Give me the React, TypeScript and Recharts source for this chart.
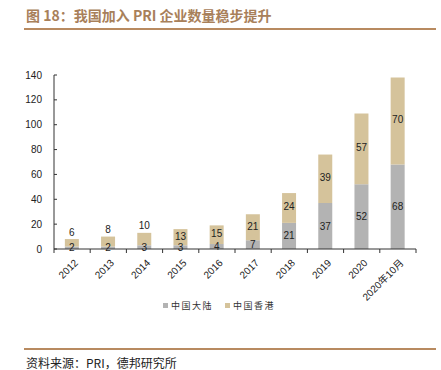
import React from "react";
import {
  Bar,
  BarChart,
  LabelList,
  Legend,
  XAxis,
  YAxis,
} from "recharts";

const YEARS = [
  "2012",
  "2013",
  "2014",
  "2015",
  "2016",
  "2017",
  "2018",
  "2019",
  "2020",
  "2020年10月",
];
const MAINLAND = [2, 2, 3, 3, 4, 7, 21, 37, 52, 68];
const HONGKONG = [6, 8, 10, 13, 15, 21, 24, 39, 57, 70];
const Y_TICKS = [0, 20, 40, 60, 80, 100, 120, 140];

const GREY = "#b3b3b3";
const TAN = "#d5c39b";
const BROWN = "#a8805a";
const FONT = "Arial, 'Liberation Sans', 'Noto Sans CJK SC', sans-serif";

const data = YEARS.map((year, i) => ({
  year,
  mainland: MAINLAND[i],
  hongkong: HONGKONG[i],
}));

// half of a category band: plot spans 54..416 for 10 categories
const HALF_BAND = (416 - 54) / YEARS.length / 2;

function XTick(props: any) {
  const { x, y, payload, index } = props;
  const last = index === YEARS.length - 1;
  return (
    <g>
      <line x1={x - HALF_BAND} x2={x - HALF_BAND} y1={y - 8} y2={y - 4} stroke="#333" />
      {last && (
        <line x1={x + HALF_BAND} x2={x + HALF_BAND} y1={y - 8} y2={y - 4} stroke="#333" />
      )}
      <text
        transform={`translate(${x + 4},${y + 4}) rotate(-45)`}
        textAnchor="end"
        fontSize={10}
        fill="#222"
        fontFamily={FONT}
        dy="0.35em"
      >
        {payload.value}
      </text>
    </g>
  );
}

function YTick(props: any) {
  const { x, y, payload } = props;
  return (
    <g>
      <line x1={x + 12} x2={x + 15} y1={y} y2={y} stroke="#333" />
      <text
        x={x}
        y={y}
        textAnchor="end"
        dy="0.35em"
        fontSize={10}
        fill="#222"
        fontFamily={FONT}
      >
        {payload.value}
      </text>
    </g>
  );
}

function centerLabel(props: any) {
  const { x, y, width, height, value } = props;
  return (
    <text
      x={x + width / 2}
      y={y + height / 2}
      textAnchor="middle"
      dy="0.35em"
      fontSize={10}
      fill="#222"
      fontFamily={FONT}
    >
      {value}
    </text>
  );
}

// small top segments get their label just above the bar
function topLabel(props: any) {
  const { x, y, width, height, value } = props;
  const ly = height < 15 ? y - 7 : y + height / 2 - 1;
  return (
    <text
      x={x + width / 2}
      y={ly}
      textAnchor="middle"
      dy="0.35em"
      fontSize={10}
      fill="#222"
      fontFamily={FONT}
    >
      {value}
    </text>
  );
}

function LegendContent() {
  const items = [
    { name: "中国大陆", color: GREY },
    { name: "中国香港", color: TAN },
  ];
  return (
    <div
      style={{
        display: "flex",
        justifyContent: "center",
        gap: 12,
        fontSize: 9,
        letterSpacing: 1.5,
        color: "#333",
        fontFamily: "'Noto Sans CJK SC', sans-serif",
        paddingLeft: 22,
        paddingTop: 4,
      }}
    >
      {items.map((it) => (
        <span key={it.name} style={{ display: "flex", alignItems: "center" }}>
          <span
            style={{
              display: "inline-block",
              width: 5,
              height: 5,
              background: it.color,
              marginRight: 3,
            }}
          />
          {it.name}
        </span>
      ))}
    </div>
  );
}

export default function App() {
  return (
    <div
      style={{
        position: "absolute",
        left: 0,
        top: 0,
        width: 441,
        height: 370,
        background: "#fff",
      }}
    >
      <div
        style={{
          position: "absolute",
          left: 26,
          top: 5,
          fontSize: 14,
          fontWeight: 700,
          color: BROWN,
          fontFamily: "'Noto Sans CJK SC', sans-serif",
          whiteSpace: "nowrap",
          lineHeight: "20px",
        }}
      >
        图 18：我国加入 PRI 企业数量稳步提升
      </div>
      <div
        style={{
          position: "absolute",
          left: 24,
          top: 28,
          width: 412,
          height: 2,
          background: "#b88a60",
        }}
      />
      <div style={{ position: "absolute", left: 0, top: 0 }}>
        <BarChart
          width={441}
          height={316}
          data={data}
          margin={{ top: 75, right: 25, left: 0, bottom: 1 }}
          barCategoryGap="30%"
        >
          <XAxis
            dataKey="year"
            interval={0}
            height={46}
            tickLine={false}
            tickSize={0}
            tickMargin={8}
            tick={<XTick />}
            axisLine={{ stroke: "#333" }}
          />
          <YAxis
            domain={[0, 140]}
            ticks={Y_TICKS}
            width={54}
            tickLine={false}
            tickSize={0}
            tickMargin={12}
            tick={<YTick />}
            axisLine={{ stroke: "#333" }}
            allowDataOverflow
          />
          <Legend verticalAlign="bottom" height={20} content={<LegendContent />} />
          <Bar
            dataKey="mainland"
            name="中国大陆"
            stackId="a"
            fill={GREY}
            isAnimationActive={false}
          >
            <LabelList dataKey="mainland" content={centerLabel} />
          </Bar>
          <Bar
            dataKey="hongkong"
            name="中国香港"
            stackId="a"
            fill={TAN}
            isAnimationActive={false}
          >
            <LabelList dataKey="hongkong" content={topLabel} />
          </Bar>
        </BarChart>
      </div>
      <div
        style={{
          position: "absolute",
          left: 24,
          top: 348,
          width: 412,
          height: 2,
          background: "#b88a60",
        }}
      />
      <div
        style={{
          position: "absolute",
          left: 26,
          top: 355,
          fontSize: 12,
          color: "#222",
          fontFamily: "'Noto Sans CJK SC', sans-serif",
          whiteSpace: "nowrap",
          lineHeight: "16px",
        }}
      >
        资料来源：PRI，德邦研究所
      </div>
    </div>
  );
}
